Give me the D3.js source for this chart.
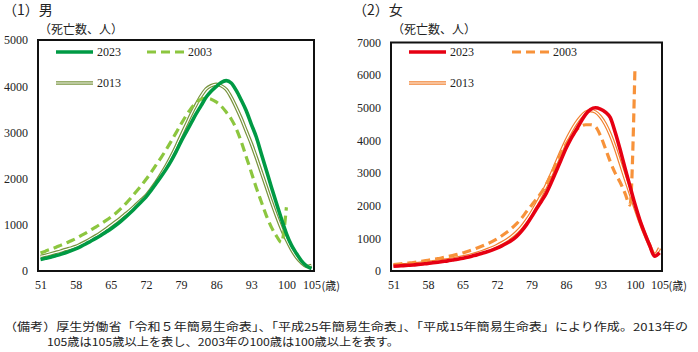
<!DOCTYPE html>
<html>
<head>
<meta charset="utf-8">
<script src="https://cdn.jsdelivr.net/npm/d3@7"></script>
<style>
    body { margin: 0; background: #fff; }
    svg { display: block; }
    text.num { font-family: 'Liberation Serif', 'DejaVu Serif', serif; font-size: 12px; fill: #222; }
    text.jp { font-family: 'Noto Sans CJK JP', sans-serif; fill: #222; }
</style>
</head>
<body>
<svg id="chart"></svg>
<script>
// ages on the x axis (one category per year)
const ages = d3.range(51, 106)
const ages2003 = d3.range(51, 101)
const xTickLabels = [51, 58, 65, 72, 79, 86, 93, 100, 105]
const legendLabels = ["2023", "2003", "2013"]

// male, deaths per age (life table)
const male2023 = [250, 275, 300, 330, 360, 395, 435, 480, 530, 585, 645, 705, 770, 840, 910, 990, 1075, 1170, 1270, 1380,
    1490, 1600, 1740, 1890, 2040, 2200, 2380, 2580, 2800, 3000, 3200, 3400, 3580, 3760, 3890, 3990, 4080, 4120, 4070, 3910,
    3700, 3470, 3180, 2900, 2540, 2180, 1820, 1470, 1130, 810, 560, 380, 220, 110, 50]
const male2013 = [315, 340, 370, 400, 430, 465, 495, 530, 580, 635, 695, 760, 830, 905, 985, 1065, 1150, 1240, 1330, 1430,
    1530, 1630, 1770, 1920, 2090, 2270, 2470, 2690, 2930, 3160, 3390, 3600, 3790, 3940, 4010, 4040, 4010, 3930, 3760, 3540,
    3300, 3030, 2760, 2460, 2140, 1820, 1500, 1200, 920, 680, 470, 300, 180, 100, 120]
const male2003 = [390, 430, 470, 510, 555, 600, 650, 700, 760, 820, 885, 950, 1020, 1090, 1165, 1250, 1350, 1460, 1580, 1710,
    1840, 1980, 2130, 2290, 2450, 2620, 2800, 2990, 3180, 3360, 3520, 3640, 3720, 3740, 3720, 3660, 3570, 3440, 3290, 3080,
    2800, 2470, 2140, 1800, 1500, 1200, 950, 760, 620, 1380]

// female
const female2023 = [145, 155, 165, 175, 185, 200, 215, 230, 250, 270, 290, 310, 335, 360, 390, 420, 460, 500, 545, 590,
    640, 700, 770, 850, 940, 1060, 1220, 1420, 1650, 1900, 2130, 2380, 2700, 3050, 3400, 3750, 4050, 4300, 4560, 4800,
    4950, 5000, 4960, 4870, 4700, 4250, 3720, 3150, 2600, 2050, 1560, 1150, 780, 450, 560]
const female2013 = [170, 180, 190, 200, 215, 230, 245, 260, 280, 300, 320, 345, 370, 395, 425, 460, 500, 545, 595, 650,
    710, 780, 860, 950, 1060, 1190, 1350, 1550, 1780, 2040, 2320, 2620, 2950, 3300, 3650, 3980, 4270, 4520, 4720, 4860,
    4910, 4870, 4730, 4500, 4180, 3780, 3320, 2850, 2400, 1950, 1520, 1130, 790, 500, 700]
const female2003 = [200, 215, 230, 245, 260, 280, 305, 330, 355, 380, 410, 440, 475, 510, 550, 600, 650, 705, 765, 830,
    900, 980, 1080, 1190, 1310, 1450, 1620, 1820, 2010, 2200, 2400, 2650, 2950, 3280, 3600, 3880, 4100, 4300, 4430, 4480,
    4480, 4420, 4150, 3760, 3350, 3000, 2720, 2380, 2020, 6150]

const svg = d3.select("#chart")
    .attr("width", 698)
    .attr("height", 352)

function numText(sel) {
    sel.attr("class", "num")
        .attr("font-family", null).attr("font-size", null).attr("fill", null)
}

function drawPanel(p) {
    const g = svg.append("g")

    const x = d3.scalePoint()
        .domain(ages)
        .range([p.left, p.right])
        .padding(0.5)

    const y = d3.scaleLinear()
        .domain([0, p.yMax])
        .range([p.bottom, p.top])

    // title and unit
    g.append("text").attr("class", "jp")
        .attr("x", p.titleX).attr("y", 15)
        .style("font-size", "14px")
        .text(p.title)
    g.append("text").attr("class", "jp")
        .attr("x", p.left + 1).attr("y", 34)
        .style("font-size", "12px")
        .text("（死亡数、人）")

    // axes, no tick marks
    const yAxis = d3.axisLeft(y)
        .tickValues(d3.range(0, p.yMax + 1, 1000))
        .tickFormat(d3.format("d"))
        .tickSize(0).tickPadding(10)
    const ya = g.append("g")
        .attr("transform", "translate(" + p.left + ",0)")
        .call(yAxis)
        .attr("font-family", null).attr("font-size", null)
    ya.select(".domain").remove()
    ya.selectAll("text").call(numText)

    const xAxis = d3.axisBottom(x).tickValues(xTickLabels).tickSize(0).tickPadding(9)
    const xa = g.append("g")
        .attr("transform", "translate(0," + p.bottom + ")")
        .call(xAxis)
        .attr("font-family", null).attr("font-size", null)
    xa.select(".domain").remove()
    xa.selectAll("text").call(numText)

    g.append("text").attr("class", "jp")
        .attr("x", x(105) + p.unitGap).attr("y", p.bottom + 19)
        .style("font-size", "11px")
        .text("(歳)")

    const line = d3.line()
        .x(d => x(d[0]))
        .y(d => y(d[1]))
        .curve(d3.curveMonotoneX)

    const d23 = ages.map((a, i) => [a, p.v2023[i]])
    const d13 = ages.map((a, i) => [a, p.v2013[i]])
    const d03 = ages2003.map((a, i) => [a, p.v2003[i]])

    // 2013: double line
    g.append("path").datum(d13)
        .attr("fill", "none").attr("stroke", p.c2013).attr("stroke-width", 3.6)
        .attr("d", line)
    g.append("path").datum(d13)
        .attr("fill", "none").attr("stroke", "#fff").attr("stroke-width", 1.2)
        .attr("d", line)

    g.append("path").datum(d03)
        .attr("fill", "none").attr("stroke", p.c2003).attr("stroke-width", 3.2)
        .attr("stroke-dasharray", "9 5")
        .attr("d", line)

    g.append("path").datum(d23)
        .attr("fill", "none").attr("stroke", p.c2023).attr("stroke-width", 3.6)
        .attr("d", line)

    // frame
    g.append("rect")
        .attr("x", p.left).attr("y", p.top)
        .attr("width", p.right - p.left).attr("height", p.bottom - p.top)
        .attr("fill", "none").attr("stroke", "#111").attr("stroke-width", 2)

    // legend
    const lx = p.left + 18
    const leg = [
        { x: lx, y: 52, label: legendLabels[0], kind: "solid" },
        { x: lx + p.legGap, y: 52, label: legendLabels[1], kind: "dash" },
        { x: lx, y: 83, label: legendLabels[2], kind: "double" }
    ]
    leg.forEach(d => {
        if (d.kind === "double") {
            g.append("line").attr("x1", d.x).attr("x2", d.x + 37).attr("y1", d.y).attr("y2", d.y)
                .attr("stroke", p.c2013).attr("stroke-width", 3.6)
            g.append("line").attr("x1", d.x).attr("x2", d.x + 37).attr("y1", d.y).attr("y2", d.y)
                .attr("stroke", "#fff").attr("stroke-width", 1.2)
        } else {
            g.append("line").attr("x1", d.x).attr("x2", d.x + 37).attr("y1", d.y).attr("y2", d.y)
                .attr("stroke", d.kind === "solid" ? p.c2023 : p.c2003)
                .attr("stroke-width", d.kind === "solid" ? 3.6 : 3.2)
                .attr("stroke-dasharray", d.kind === "dash" ? "9 5" : null)
        }
        g.append("text")
            .attr("x", d.x + 41).attr("y", d.y + 4)
            .call(numText)
            .text(d.label)
    })
}

drawPanel({
    title: "（1）男", titleX: 3,
    left: 38, right: 314, top: 40, bottom: 271, yMax: 5000,
    v2023: male2023, v2013: male2013, v2003: male2003,
    c2023: "#009a44", c2003: "#8cc63f", c2013: "#77933c",
    legGap: 91, unitGap: 10
})

drawPanel({
    title: "（2）女", titleX: 353,
    left: 391, right: 662, top: 42.5, bottom: 271, yMax: 7000,
    v2023: female2023, v2013: female2013, v2003: female2003,
    c2023: "#e60012", c2003: "#f7923a", c2013: "#f08030",
    legGap: 103, unitGap: 9
})

// footnote
const note = svg.append("g")
note.append("text").attr("class", "jp").style("font-size", "11px")
    .attr("x", 4).attr("y", 331)
    .attr("textLength", 684).attr("lengthAdjust", "spacingAndGlyphs")
    .text("（備考）厚生労働省「令和５年簡易生命表」、「平成25年簡易生命表」、「平成15年簡易生命表」により作成。2013年の")
note.append("text").attr("class", "jp").style("font-size", "11px")
    .attr("x", 47).attr("y", 346)
    .attr("textLength", 352).attr("lengthAdjust", "spacingAndGlyphs")
    .text("105歳は105歳以上を表し、2003年の100歳は100歳以上を表す。")
</script>
</body>
</html>
